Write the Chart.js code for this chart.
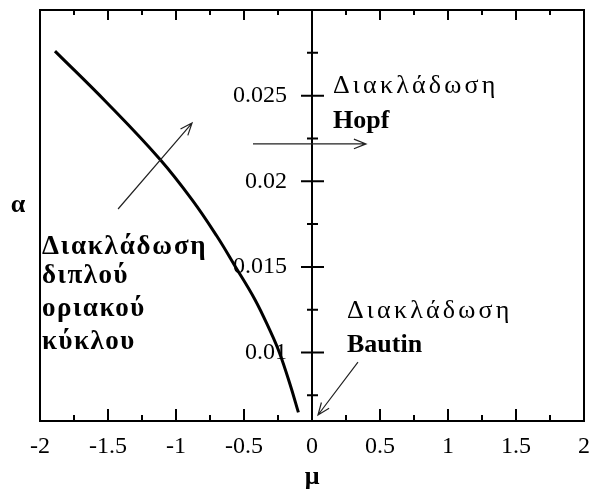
<!DOCTYPE html>
<html><head><meta charset="utf-8">
<script src="https://cdn.jsdelivr.net/npm/chart.js@4"></script>
<style>html,body{margin:0;padding:0;background:#fff}#wrap{width:589px;height:493px}</style>
</head><body><div id="wrap"><canvas id="c" width="589" height="493"></canvas></div>
<script>
// ---- data ----
const muValues    = [-1.89, -1.51, -1.12, -0.88, -0.70, -0.57, -0.42, -0.31, -0.24, -0.16, -0.10];
const alphaValues = [0.0276, 0.0246, 0.0213, 0.0189, 0.0168, 0.0151, 0.0131, 0.0113, 0.0100, 0.0081, 0.0065];
const xTickValues = [-2, -1.5, -1, -0.5, 0, 0.5, 1, 1.5, 2];
const xTickLabels = ['-2', '-1.5', '-1', '-0.5', '0', '0.5', '1', '1.5', '2'];
const xMinorTicks = [-1.75, -1.25, -0.75, -0.25, 0.25, 0.75, 1.25, 1.75];
const yTickValues = [0.01, 0.015, 0.02, 0.025];
const yTickLabels = ['0.01', '0.015', '0.02', '0.025'];
const yMinorTicks = [0.0075, 0.0125, 0.0175, 0.0225, 0.0275];
const xTitle = 'μ';
const yTitle = 'α';
// annotation text (anchored in data coordinates)
const hopfLines   = ['Διακλάδωση', 'Hopf'];
const bautinLines = ['Διακλάδωση', 'Bautin'];
const foldLines   = ['Διακλάδωση', 'διπλού', 'οριακού', 'κύκλου'];
const hopfAnchor   = {x: 0.154, y: [0.02515, 0.02311]};
const bautinAnchor = {x: 0.257, y: [0.01201, 0.01003]};
const foldAnchor   = {x: -1.985, y: [0.01575, 0.01406, 0.01213, 0.01021]};
const arrows = [
  {from: [-0.434, 0.02218], to: [0.397, 0.02218]},
  {from: [-1.426, 0.01838], to: [-0.882, 0.0234]},
  {from: [0.338, 0.00944], to: [0.044, 0.00635]}
];

const FONT = '"Liberation Serif", "Times New Roman", serif';

const decor = {
  id: 'decor',
  afterDraw(chart) {
    const {ctx, chartArea: a, scales: {x, y}} = chart;
    ctx.save();
    ctx.strokeStyle = '#000';
    ctx.lineWidth = 2;
    ctx.strokeRect(a.left, a.top, a.right - a.left, a.bottom - a.top);
    const x0 = x.getPixelForValue(0);
    ctx.beginPath(); ctx.moveTo(x0, a.top); ctx.lineTo(x0, a.bottom); ctx.stroke();
    // x ticks (bottom and top, inward)
    ctx.beginPath();
    xTickValues.forEach(v => {
      const px = x.getPixelForValue(v);
      ctx.moveTo(px, a.bottom); ctx.lineTo(px, a.bottom - 12);
      ctx.moveTo(px, a.top); ctx.lineTo(px, a.top + 10);
    });
    xMinorTicks.forEach(v => {
      const px = x.getPixelForValue(v);
      ctx.moveTo(px, a.bottom); ctx.lineTo(px, a.bottom - 6);
      ctx.moveTo(px, a.top); ctx.lineTo(px, a.top + 5);
    });
    // y ticks crossing the axis at mu = 0
    yTickValues.forEach(v => {
      const py = y.getPixelForValue(v);
      ctx.moveTo(x0 - 11, py); ctx.lineTo(x0 + 12, py);
    });
    yMinorTicks.forEach(v => {
      const py = y.getPixelForValue(v);
      ctx.moveTo(x0 - 5, py); ctx.lineTo(x0 + 6, py);
    });
    ctx.stroke();

    // y tick labels, left of the axis at mu = 0
    ctx.fillStyle = '#000';
    ctx.font = '24px ' + FONT;
    ctx.textAlign = 'right';
    ctx.textBaseline = 'middle';
    yTickValues.forEach((v, i) => {
      ctx.fillText(yTickLabels[i], x0 - 25, y.getPixelForValue(v));
    });

    // arrows
    ctx.strokeStyle = '#222';
    ctx.lineWidth = 1.2;
    arrows.forEach(ar => {
      const x1 = x.getPixelForValue(ar.from[0]), y1 = y.getPixelForValue(ar.from[1]);
      const x2 = x.getPixelForValue(ar.to[0]),   y2 = y.getPixelForValue(ar.to[1]);
      const ang = Math.atan2(y2 - y1, x2 - x1);
      ctx.beginPath();
      ctx.moveTo(x1, y1); ctx.lineTo(x2, y2);
      ctx.moveTo(x2 - 13 * Math.cos(ang - 0.38), y2 - 13 * Math.sin(ang - 0.38));
      ctx.lineTo(x2, y2);
      ctx.lineTo(x2 - 13 * Math.cos(ang + 0.38), y2 - 13 * Math.sin(ang + 0.38));
      ctx.stroke();
    });

    // texts
    ctx.textBaseline = 'alphabetic';
    ctx.textAlign = 'left';
    const drawLines = (lines, anchor, fonts, spacing) => {
      const px = x.getPixelForValue(anchor.x);
      lines.forEach((t, i) => {
        ctx.font = fonts[i];
        ctx.letterSpacing = spacing[i];
        ctx.fillText(t, px, y.getPixelForValue(anchor.y[i]));
      });
      ctx.letterSpacing = '0px';
    };
    const greek = '26px ' + FONT;
    const bold = 'bold 26px ' + FONT;
    const boldL = 'bold 27px ' + FONT;
    drawLines(hopfLines, hopfAnchor, [greek, bold], ['3.2px', '0px']);
    drawLines(bautinLines, bautinAnchor, [greek, bold], ['3.2px', '0px']);
    drawLines(foldLines, foldAnchor, [boldL, boldL, boldL, boldL], ['1.8px', '1.5px', '1.5px', '1.5px']);
    // y axis title
    ctx.font = 'bold 26px ' + FONT;
    ctx.textAlign = 'center';
    ctx.fillText(yTitle, 18, y.getPixelForValue(0.01819));
    ctx.restore();
  }
};

new Chart(document.getElementById('c'), {
  type: 'scatter',
  data: {
    datasets: [{
      data: muValues.map((m, i) => ({x: m, y: alphaValues[i]})),
      showLine: true,
      borderColor: '#000',
      borderWidth: 3,
      pointRadius: 0,
      tension: 0.4,
      fill: false
    }]
  },
  options: {
    responsive: false,
    devicePixelRatio: 1,
    animation: false,
    layout: {padding: {left: 40, right: 5, top: 10, bottom: 0}},
    plugins: {legend: {display: false}, tooltip: {enabled: false}},
    scales: {
      x: {
        type: 'linear', min: -2, max: 2,
        afterBuildTicks: s => { s.ticks = xTickValues.map(v => ({value: v})); },
        afterFit: s => { s.height = 72; s.paddingLeft = 0; s.paddingRight = 0; },
        grid: {display: false, drawTicks: false, tickLength: 0},
        border: {display: false},
        ticks: {
          padding: 11, color: '#000', font: {family: FONT, size: 24},
          maxRotation: 0, autoSkip: false,
          callback: (v) => { const i = xTickValues.indexOf(v); return i >= 0 ? xTickLabels[i] : ''; }
        },
        title: {display: true, text: xTitle, color: '#000', font: {family: FONT, size: 26, weight: 'bold'}, padding: {top: 0, bottom: 0}}
      },
      y: {
        type: 'linear', min: 0.006, max: 0.03,
        display: false
      }
    }
  },
  plugins: [decor]
});
</script>
</body></html>
